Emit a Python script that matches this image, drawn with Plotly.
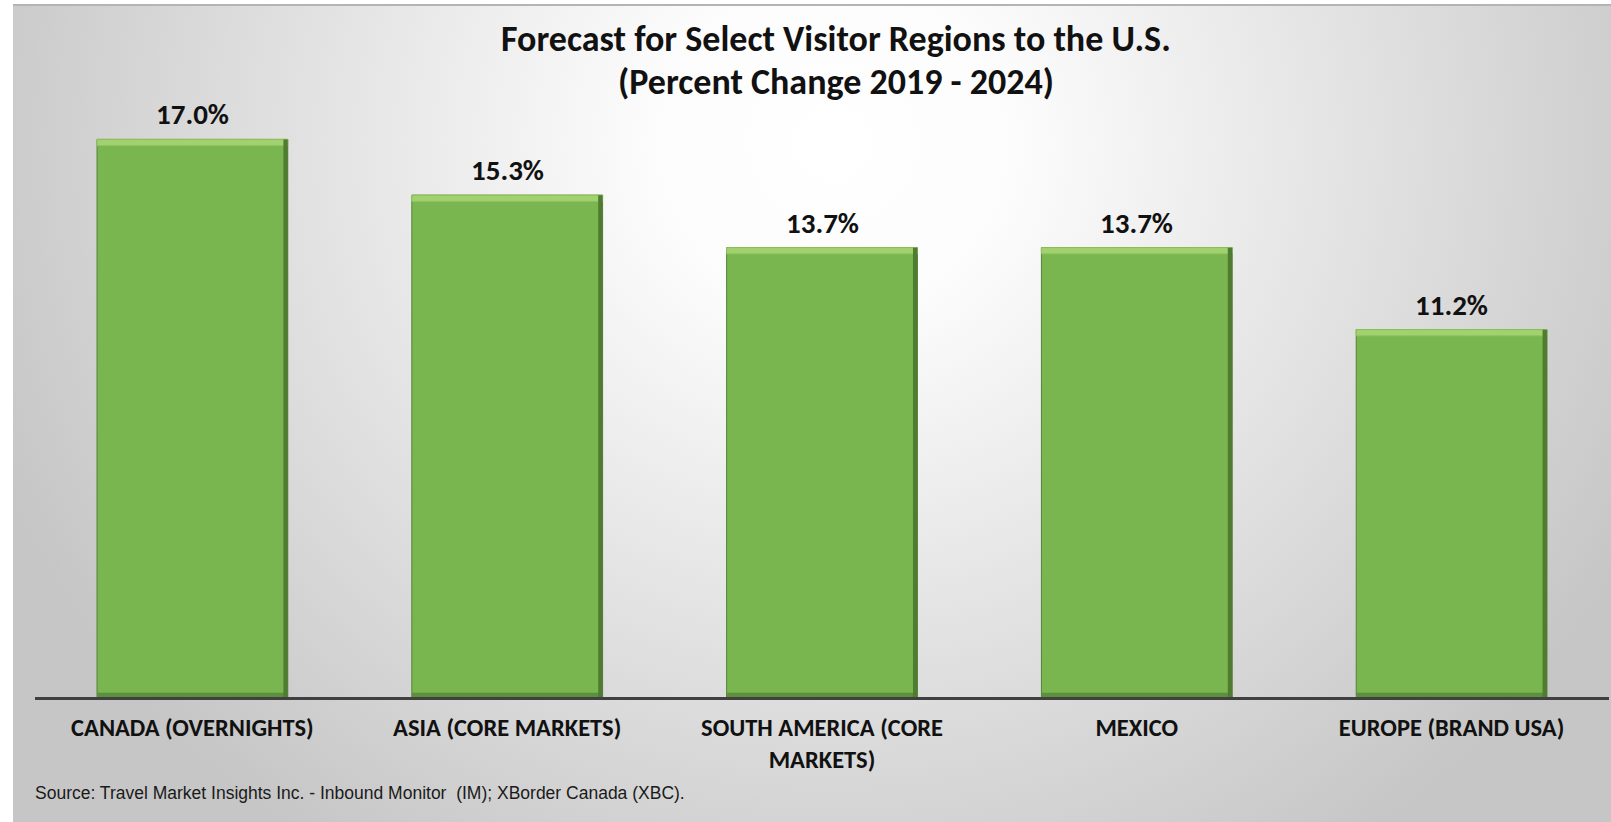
import base64
import plotly.graph_objects as go

# Forecast percent change 2019-2024 by visitor region
regions = [
    "CANADA (OVERNIGHTS)",
    "ASIA (CORE MARKETS)",
    "SOUTH AMERICA (CORE<br>MARKETS)",
    "MEXICO",
    "EUROPE (BRAND USA)",
]
pct_change = [17.0, 15.3, 13.7, 13.7, 11.2]
value_labels = [f"{v:.1f}%" for v in pct_change]

title_line1 = "Forecast for Select Visitor Regions to the U.S."
title_line2 = "(Percent Change 2019 - 2024)"
source_note = "Source: Travel Market Insights Inc. - Inbound Monitor  (IM); XBorder Canada (XBC)."

W, H = 1611, 822
M_L, M_R, M_T, M_B = 35, 2, 41, 125
Y_MAX = 20

FONT = "Calibri, Carlito, Lato, sans-serif"
BAR_W = 0.606
GREEN = "#79b64f"

# radial grey backdrop behind the whole chart
bg_w, bg_h = 1598, 818
svg = f"""<svg xmlns='http://www.w3.org/2000/svg' width='{bg_w}' height='{bg_h}' viewBox='0 0 {bg_w} {bg_h}' preserveAspectRatio='none'>
<defs><radialGradient id='g' gradientUnits='userSpaceOnUse' cx='820' cy='140' r='900'
 gradientTransform='translate(820 140) scale(1 0.95) translate(-820 -140)'>
<stop offset='0' stop-color='#ffffff'/><stop offset='0.2' stop-color='#fcfcfc'/>
<stop offset='1' stop-color='#c6c6c6'/></radialGradient></defs>
<rect width='{bg_w}' height='{bg_h}' fill='url(#g)'/>
<line x1='0' y1='1' x2='{bg_w}' y2='1' stroke='#b4b4b4' stroke-width='2'/>
</svg>"""
bg_src = "data:image/svg+xml;base64," + base64.b64encode(svg.encode()).decode()

plot_w = W - M_L - M_R
plot_h = H - M_T - M_B


def px_x(x):
    return (x - M_L) / plot_w


def px_y(y):
    return (H - M_B - y) / plot_h


fig = go.Figure()

# main bars
fig.add_trace(go.Bar(
    x=regions, y=pct_change, width=BAR_W,
    marker=dict(color=GREEN, line=dict(color="#55803a", width=1)),
    hoverinfo="skip", showlegend=False,
))

# bevel: dark bottom edge
edge = 0.13
fig.add_trace(go.Bar(
    x=regions, y=[edge] * len(pct_change), base=[0] * len(pct_change), width=BAR_W,
    marker=dict(color="#5d8f3e", line=dict(width=0)),
    hoverinfo="skip", showlegend=False,
))

# bevel: light top edge
top = 0.19
fig.add_trace(go.Bar(
    x=regions, y=[top] * len(pct_change), base=[v - top for v in pct_change], width=BAR_W,
    marker=dict(color="#a2d26f", line=dict(color="#8fc25d", width=1)),
    hoverinfo="skip", showlegend=False,
))

# bevel: shaded right edge
side = 0.014
fig.add_trace(go.Bar(
    x=regions, y=pct_change, width=side, offset=BAR_W / 2 - side,
    marker=dict(color="#4f7c31", line=dict(width=0)),
    hoverinfo="skip", showlegend=False,
))

annotations = []
for r, v, t in zip(regions, pct_change, value_labels):
    annotations.append(dict(
        x=r, y=v, xref="x", yref="y", text=f"<b>{t}</b>", showarrow=False,
        yanchor="middle", yshift=25,
        font=dict(family=FONT, size=29, color="#111111"),
    ))

annotations += [
    dict(x=px_x(836), y=px_y(39), xref="paper", yref="paper", text=f"<b>{title_line1}</b>",
         showarrow=False, xanchor="center", yanchor="middle",
         font=dict(family=FONT, size=36, color="#111111")),
    dict(x=px_x(836), y=px_y(82), xref="paper", yref="paper", text=f"<b>{title_line2}</b>",
         showarrow=False, xanchor="center", yanchor="middle",
         font=dict(family=FONT, size=36, color="#111111")),
    dict(x=px_x(33), y=px_y(793), xref="paper", yref="paper", text=source_note,
         showarrow=False, xanchor="left", yanchor="middle",
         font=dict(family="Liberation Sans Narrow, Arial Narrow, Liberation Sans, sans-serif",
                   size=17.5, color="#1a1a1a")),
]

fig.update_layout(
    width=W, height=H, autosize=False,
    margin=dict(l=M_L, r=M_R, t=M_T, b=M_B, pad=0),
    paper_bgcolor="rgba(0,0,0,0)", plot_bgcolor="rgba(0,0,0,0)",
    barmode="overlay",
    annotations=annotations,
    images=[dict(
        source=bg_src, xref="paper", yref="paper",
        x=px_x(13), y=px_y(4), sizex=bg_w / plot_w, sizey=bg_h / plot_h,
        xanchor="left", yanchor="top", sizing="stretch", layer="below",
    )],
    xaxis=dict(
        showline=True, linecolor="#404040", linewidth=2.5, ticks="",
        showgrid=False, zeroline=False, ticklabelstandoff=7,
        tickfont=dict(family=FONT, size=24.5, color="#111111"),
        tickvals=regions, ticktext=[f"<b>{r}</b>" for r in regions],
        fixedrange=True,
    ),
    yaxis=dict(
        range=[0, Y_MAX], visible=False, showgrid=False, zeroline=False, fixedrange=True,
    ),
)

fig.write_html("out.html", include_plotlyjs=True, config={"displayModeBar": False})
